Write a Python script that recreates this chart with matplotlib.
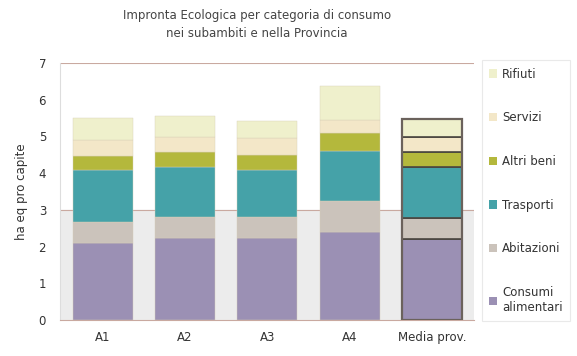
import matplotlib.pyplot as plt
from matplotlib.patches import Patch

# Categories and stacked values (ha eq pro capite)
areas = ['A1', 'A2', 'A3', 'A4', 'Media prov.']
consumi = [2.10, 2.23, 2.23, 2.41, 2.20]
abitazioni = [0.57, 0.58, 0.58, 0.84, 0.58]
trasporti = [1.42, 1.36, 1.28, 1.36, 1.39]
altri_beni = [0.38, 0.40, 0.41, 0.49, 0.40]
servizi = [0.43, 0.42, 0.46, 0.35, 0.42]
rifiuti = [0.60, 0.58, 0.46, 0.93, 0.49]

series = [
    ('Consumi\nalimentari', consumi, '#9b90b4'),
    ('Abitazioni', abitazioni, '#cbc3bb'),
    ('Trasporti', trasporti, '#45a2a8'),
    ('Altri beni', altri_beni, '#b4b83c'),
    ('Servizi', servizi, '#f3e7c8'),
    ('Rifiuti', rifiuti, '#eff0cc'),
]

fig = plt.figure(figsize=(5.77, 3.56), dpi=100)
ax = fig.add_axes([0.104, 0.101, 0.717, 0.722])

# light band behind the lower part of the plot
ax.axhspan(0, 3, color='#ececec', zorder=0)
ax.axhline(3, color='#c9a9a0', lw=0.8, zorder=1)
ax.axhline(7, color='#c9a9a0', lw=0.8, zorder=1)

x = list(range(len(areas)))
bottom = [0.0] * len(areas)
for name, vals, col in series:
    edges = ['#d8cfb8'] * (len(areas) - 1) + ['#4a4640']
    lws = [0.3] * (len(areas) - 1) + [1.2]
    ax.bar(x, vals, width=0.73, bottom=bottom, color=col,
           edgecolor=edges, linewidth=lws, zorder=2)
    bottom = [b + v for b, v in zip(bottom, vals)]

# outline of the provincial average bar
ax.bar(x[-1], bottom[-1], width=0.73, fill=False,
       edgecolor='#6b625c', linewidth=1.6, zorder=3)

ax.set_xlim(-0.52, 4.51)
ax.set_ylim(0, 7)
ax.set_yticks(range(8))
ax.set_xticks(x)
ax.set_xticklabels(areas)
ax.tick_params(length=0, labelsize=8.5, colors='#333333')
ax.tick_params(axis='y', pad=10)
ax.tick_params(axis='x', pad=8)
for s in ['top', 'right']:
    ax.spines[s].set_visible(False)
ax.spines['left'].set_color('#dddddd')
ax.spines['bottom'].set_color('#c9a9a0')
ax.set_ylabel('ha eq pro capite', fontsize=8.5, color='#333333', labelpad=8)

fig.text(0.445, 0.975, 'Impronta Ecologica per categoria di consumo\nnei subambiti e nella Provincia',
         ha='center', va='top', fontsize=8.5, color='#444444', linespacing=1.5)

handles = [Patch(facecolor=col, edgecolor='none', label=name)
           for name, vals, col in reversed(series)]
leg = ax.legend(handles=handles, loc='upper left', bbox_to_anchor=(1.02, 1.01),
                fontsize=8.5, labelspacing=2.6, handlelength=0.7, handleheight=0.7,
                handletextpad=0.4, frameon=True, fancybox=False,
                borderpad=0.6, borderaxespad=0)
leg.get_frame().set_edgecolor('#e4e4e4')
leg.get_frame().set_linewidth(0.8)
for t in leg.get_texts():
    t.set_color('#333333')

fig.savefig('out.png', dpi=100)
